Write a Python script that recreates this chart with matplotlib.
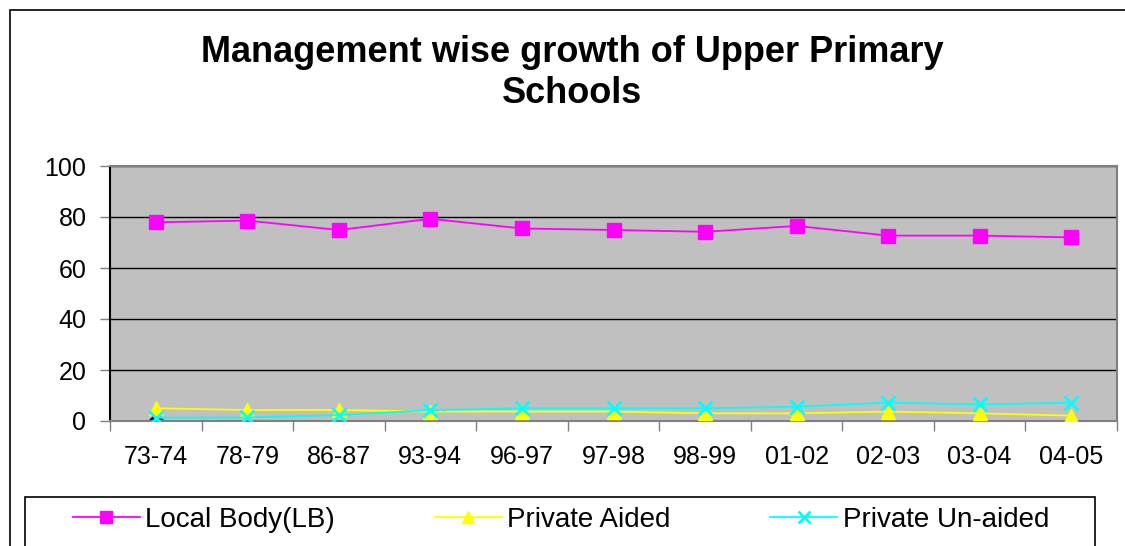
import matplotlib.pyplot as plt
from matplotlib.patches import Rectangle

plt.rcParams['font.family'] = ['Liberation Sans', 'DejaVu Sans']

# data
years = ['73-74', '78-79', '86-87', '93-94', '96-97', '97-98', '98-99',
         '01-02', '02-03', '03-04', '04-05']
local_body = [77.9, 78.6, 74.9, 79.3, 75.5, 74.9, 74.2, 76.5, 72.7, 72.7, 72.0]
private_aided = [5.0, 4.3, 4.3, 3.7, 3.7, 3.7, 3.0, 3.0, 3.7, 3.0, 2.1]
private_unaided = [1.3, 1.4, 2.3, 4.3, 5.0, 5.0, 5.0, 5.6, 7.2, 6.5, 7.2]
govt = [0.2]  # lone point at 73-74

fig = plt.figure(figsize=(11.25, 5.46), dpi=100)
W, H = 1125, 546

# outer chart border
fig.add_artist(Rectangle((10 / W, -0.01), 1.2, 1 - 10 / H + 0.01,
                         transform=fig.transFigure, fill=False,
                         edgecolor='black', linewidth=1.2))
# legend box
fig.add_artist(Rectangle((25 / W, -0.01), (1095 - 25) / W, (546 - 497) / H + 0.01,
                         transform=fig.transFigure, fill=False,
                         edgecolor='black', linewidth=1.2))

ax = fig.add_axes([110 / W, 1 - 421 / H, (1117 - 110) / W, (421 - 166) / H])
ax.set_facecolor('#C0C0C0')

x = range(len(years))
ax.plot(x, local_body, color='#FF00FF', marker='s', markersize=10,
        linewidth=1.3, label='Local Body(LB)', zorder=3)
ax.plot(x, private_aided, color='#FFFF00', marker='^', markersize=10,
        linewidth=1.3, label='Private Aided', zorder=3)
ax.plot(x, private_unaided, color='#00FFFF', marker='x', markersize=10,
        markeredgewidth=2, linewidth=1.3, label='Private Un-aided', zorder=4)
ax.plot(range(len(govt)), govt, color='#000080', marker='D', markersize=7,
        linestyle='none', zorder=2, label='_nolegend_')

ax.set_xlim(-0.5, len(years) - 0.5)
ax.set_ylim(0, 100)
ax.set_yticks([0, 20, 40, 60, 80, 100])
ax.set_xticks(x)
ax.set_xticklabels(years)
ax.set_xticks([i + 0.5 for i in range(-1, len(years))], minor=True)
ax.tick_params(axis='x', which='major', length=0, pad=17, labelsize=18)
ax.tick_params(axis='x', which='minor', length=7, width=1, color='#808080',
               direction='out')
ax.tick_params(axis='y', length=7, width=1, color='#808080', direction='out',
               labelsize=18, pad=10)
ax.grid(axis='y', color='black', linewidth=1)
ax.set_axisbelow(True)
for name, sp in ax.spines.items():
    sp.set_color('#808080')
    sp.set_linewidth(1.5)
ax.spines['left'].set_color('black')
ax.spines['left'].set_linewidth(1.5)

fig.text(572 / W, 1 - 73 / H, 'Management wise growth of Upper Primary\nSchools',
         ha='center', va='center', fontsize=26, fontweight='bold',
         linespacing=1.2)

leg = fig.legend(loc='center', ncol=3, bbox_to_anchor=(561 / W, 1 - 520 / H),
                 fontsize=20, handlelength=2.4, handletextpad=0.2,
                 frameon=False, markerscale=0.8, borderaxespad=0,
                 borderpad=0, columnspacing=3.6)

fig.savefig('out.png', dpi=100)
